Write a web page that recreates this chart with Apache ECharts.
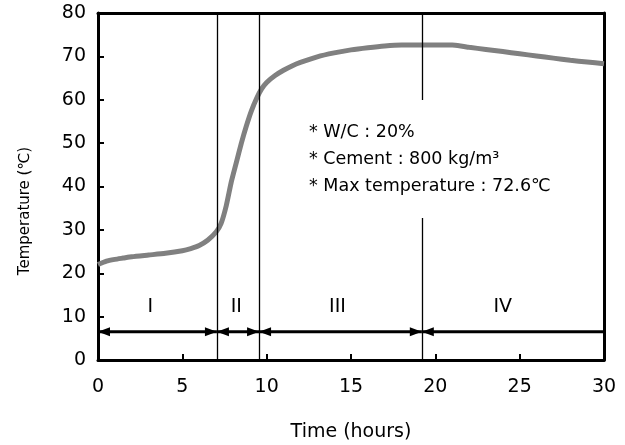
<!DOCTYPE html>
<html>
<head>
  <meta charset="utf-8">
  <title>Temperature history</title>
  <script src="https://cdn.jsdelivr.net/npm/echarts@6/dist/echarts.min.js"></script>
  <style>
    html, body { margin: 0; padding: 0; background: #fff; }
    #main { width: 625px; height: 445px; }
  </style>
</head>
<body>
<div id="main"></div>
<script>
  // 시간(hours)과 온도(℃) 데이터
  var hours = [0, 0.5, 1, 1.5, 2, 3, 4, 5, 5.5, 6, 6.5, 7, 7.3, 7.6, 7.9, 8.2, 8.5, 8.8, 9.1, 9.4, 9.7,
               10, 10.5, 11, 11.5, 12, 13, 14, 15, 16, 17, 18, 19, 20, 21, 21.5, 22, 23, 24, 25, 26, 27, 28, 29, 30];
  var temps = [22, 22.8, 23.2, 23.5, 23.8, 24.2, 24.6, 25.2, 25.7, 26.4, 27.6, 29.5, 31.5, 35.5, 41, 45.5, 50, 54, 57.5, 60.3, 62.5,
               64, 65.6, 66.8, 67.8, 68.6, 69.9, 70.8, 71.5, 72, 72.4, 72.6, 72.6, 72.6, 72.6, 72.4, 72.1, 71.6, 71.1, 70.6, 70.1, 69.6, 69.1, 68.7, 68.3];

  // 단계 경계와 라벨
  var phaseBounds = [0, 7.05, 9.55, 19.2, 30];
  var phaseNames = ['I', 'II', 'III', 'IV'];
  var phaseLabelX = [3.1, 8.2, 14.2, 24.0];
  var arrowY = 6.5;
  var labelY = 12.3;

  var notes = ['* W/C : 20%', '* Cement : 800 kg/m³', '* Max temperature : 72.6℃'];

  var font = 'DejaVu Sans';

  var curve = hours.map(function (h, i) { return [h, temps[i]]; });

  var phases = [];
  for (var i = 0; i < phaseNames.length; i++) {
    phases.push([phaseBounds[i], phaseBounds[i + 1], phaseLabelX[i], i]);
  }

  var myChart = echarts.init(document.getElementById('main'));

  function renderPhase(params, api) {
    var x0 = api.value(0), x1 = api.value(1), lx = api.value(2), idx = api.value(3);
    var p0 = api.coord([x0, arrowY]);
    var p1 = api.coord([x1, arrowY]);
    var pl = api.coord([lx, labelY]);
    var len = 12, half = 4.5;
    var children = [
      { type: 'line', shape: { x1: p0[0], y1: p0[1], x2: p1[0], y2: p1[1] },
        style: { stroke: '#000', lineWidth: 3 } },
      { type: 'polygon', shape: { points: [[p0[0], p0[1]], [p0[0] + len, p0[1] - half], [p0[0] + len, p0[1] + half]] },
        style: { fill: '#000' } },
      { type: 'text', x: pl[0], y: pl[1],
        style: { text: phaseNames[idx], fill: '#000', font: '19px ' + font, align: 'center', verticalAlign: 'middle' } }
    ];
    if (idx < phaseNames.length - 1) {
      children.push({ type: 'polygon', shape: { points: [[p1[0], p1[1]], [p1[0] - len, p1[1] - half], [p1[0] - len, p1[1] + half]] },
        style: { fill: '#000' } });
    }
    return { type: 'group', children: children };
  }

  myChart.setOption({
    animation: false,
    backgroundColor: '#fff',
    grid: { left: 98, right: 21, top: 13, bottom: 85, outerBoundsMode: 'none', containLabel: false },
    xAxis: [{
      type: 'value', min: 0, max: 30, interval: 5,
      name: 'Time (hours)', nameLocation: 'middle', nameGap: 63,
      nameTextStyle: { fontSize: 19, color: '#000', fontFamily: font },
      axisLine: { lineStyle: { color: '#000', width: 3 } },
      axisTick: { inside: true, length: 6, lineStyle: { color: '#000', width: 2 } },
      axisLabel: { fontSize: 19, color: '#000', fontFamily: font, margin: 18 },
      splitLine: { show: false }
    }, {
      type: 'value', position: 'top', min: 0, max: 30,
      axisLine: { show: true, onZero: false, lineStyle: { color: '#000', width: 3 } },
      axisTick: { show: false }, axisLabel: { show: false }, splitLine: { show: false }
    }],
    yAxis: [{
      type: 'value', min: 0, max: 80, interval: 10,
      axisLine: { show: true, lineStyle: { color: '#000', width: 3 } },
      axisTick: { show: true, inside: true, length: 6, lineStyle: { color: '#000', width: 2 } },
      axisLabel: { fontSize: 19, color: '#000', fontFamily: font, margin: 12 },
      splitLine: { show: false }
    }, {
      type: 'value', position: 'right', min: 0, max: 80,
      axisLine: { show: true, onZero: false, lineStyle: { color: '#000', width: 3 } },
      axisTick: { show: false }, axisLabel: { show: false }, splitLine: { show: false }
    }],
    graphic: [
      { type: 'text', x: 25, y: 211, rotation: Math.PI / 2, z: 100,
        style: { text: 'Temperature (℃)', fill: '#000', font: '15px ' + font, align: 'center', verticalAlign: 'middle' } },
      { type: 'rect', shape: { x: 300, y: 100, width: 270, height: 118 }, z: 99,
        style: { fill: '#fff' } },
      { type: 'text', x: 309, y: 132, z: 100,
        style: { text: notes[0], fill: '#000', font: '17.5px ' + font, verticalAlign: 'middle' } },
      { type: 'text', x: 309, y: 159, z: 100,
        style: { text: notes[1], fill: '#000', font: '17.5px ' + font, verticalAlign: 'middle' } },
      { type: 'text', x: 309, y: 186, z: 100,
        style: { text: notes[2], fill: '#000', font: '17.5px ' + font, verticalAlign: 'middle' } }
    ],
    series: [{
      type: 'line',
      data: curve,
      showSymbol: false,
      smooth: 0.2,
      lineStyle: { color: '#808080', width: 5 },
      z: 3,
      markLine: {
        silent: true,
        symbol: ['none', 'none'],
        label: { show: false },
        lineStyle: { color: '#000', width: 1.3, type: 'solid' },
        data: phaseBounds.slice(1, 4).map(function (b) { return { xAxis: b }; })
      }
    }, {
      type: 'custom',
      data: phases,
      renderItem: renderPhase,
      z: 4,
      silent: true
    }]
  });
</script>
</body>
</html>
